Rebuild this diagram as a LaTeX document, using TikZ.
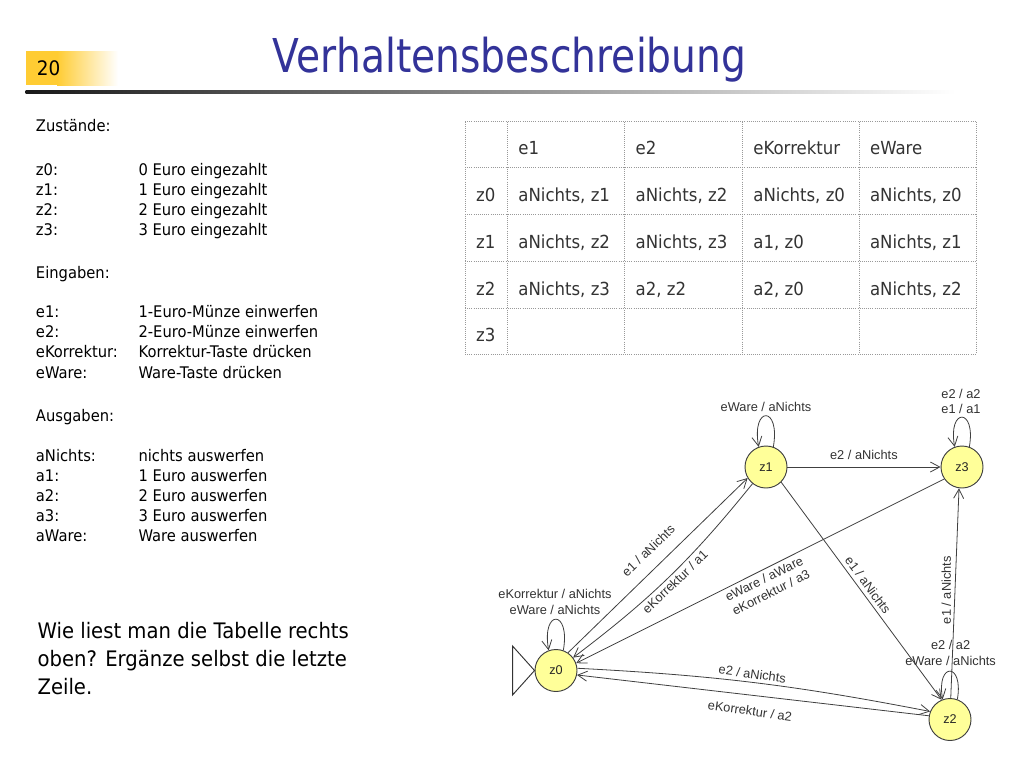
\documentclass[tikz,border=0pt]{standalone}
\usepackage{fontspec}
\setmainfont{DejaVu Sans}
\newfontfamily\tahoma{DejaVu Sans}[FakeStretch=0.92]
\newfontfamily\titlef{DejaVu Sans}[FakeStretch=0.84]
\newfontfamily\labf{Liberation Sans}
\usetikzlibrary{arrows.meta}
\definecolor{titleblue}{RGB}{51,51,153}
\definecolor{boxy}{RGB}{255,204,51}
\definecolor{nodey}{RGB}{255,255,153}
\begin{document}
\begin{tikzpicture}[x=0.75pt,y=0.75pt,
  state/.style={circle,draw=black!75,fill=nodey,line width=0.7pt,minimum size=31.5pt,inner sep=0pt,font=\labf\fontsize{9.5}{11}\selectfont,text=black!85},
  edge/.style={draw=black!75,line width=0.6pt,-{Straight Barb[length=7pt,width=7.5pt]}},
  lab/.style={font=\labf\fontsize{9.6}{11.4}\selectfont,text=black!80,inner sep=0pt,align=center},
  body/.style={font=\tahoma\fontsize{12}{14}\selectfont,anchor=base west,inner sep=0pt},
  quest/.style={font=\tahoma\fontsize{16}{20}\selectfont,anchor=base west,inner sep=0pt},
  cell/.style={font=\tahoma\fontsize{13.5}{16}\selectfont,text=black!80,anchor=base west,inner sep=0pt},
  gridline/.style={draw=black!40,densely dotted,line width=0.6pt}]
\useasboundingbox (0,0) rectangle (1024,-768);
\fill[white] (0,0) rectangle (1024,-768);
% header
\fill[boxy] (25.7,-51) rectangle (57,-85);
\shade[left color=boxy,right color=white] (57,-51) rectangle (118,-85);
\node[anchor=base west,inner sep=0pt,font=\tahoma\fontsize{15}{18}\selectfont] (num) at (36.7,-75) {20};
\shade[left color=black!90,middle color=black!45,right color=white] (25.7,-90.5) rectangle (955,-93.5);
\node[anchor=base west,inner sep=0pt,font=\titlef\fontsize{35}{40}\selectfont,text=titleblue] (title) at (272.7,-72) {Verhaltensbeschreibung};
% left text
\node[body] (hz) at (35.7,-131) {Zustände:};
\node[body] (he) at (35.7,-278.5) {Eingaben:};
\node[body] (ha) at (35.7,-421) {Ausgaben:};
\foreach \yy/\aa/\bb [count=\i] in {175/z0:/0 Euro eingezahlt, 195/z1:/1 Euro eingezahlt, 215/z2:/2 Euro eingezahlt, 235/z3:/3 Euro eingezahlt,
  317.5/e1:/1-Euro-Münze einwerfen, 337.5/e2:/2-Euro-Münze einwerfen, 357.5/eKorrektur:/Korrektur-Taste drücken, 378/eWare:/Ware-Taste drücken,
  461/aNichts:/nichts auswerfen, 481/a1:/1 Euro auswerfen, 501/a2:/2 Euro auswerfen, 521/a3:/3 Euro auswerfen, 541.5/aWare:/Ware auswerfen}{
  \node[body] (la\i) at (35.7,-\yy) {\aa};
  \node[body] (lb\i) at (138.3,-\yy) {\bb};
}
\node[quest] (q1) at (37.3,-638.3) {Wie liest man die Tabelle rechts};
\node[quest] (q2) at (37.3,-666.3) {oben? Ergänze selbst die letzte};
\node[quest] (q3) at (37.3,-694.3) {Zeile.};
% table
\foreach \xx in {465,507.3,624.6,742.3,859,976.7}{\draw[gridline] (\xx,-121.8) -- (\xx,-354.1);}
\foreach \yy in {121.8,167.5,214.8,261.5,308.8,354.1}{\draw[gridline] (465,-\yy) -- (976.7,-\yy);}
\node[cell] (h1) at (518.1,-154) {e1};
\node[cell] (h2) at (635.4,-154) {e2};
\node[cell] (h3) at (753.1,-154) {eKorrektur};
\node[cell] (h4) at (869.8,-154) {eWare};
\foreach \yy/\rr/\ca/\cb/\cc/\cd [count=\i] in {
  201.5/z0/{aNichts, z1}/{aNichts, z2}/{aNichts, z0}/{aNichts, z0},
  248.3/z1/{aNichts, z2}/{aNichts, z3}/{a1, z0}/{aNichts, z1},
  295.3/z2/{aNichts, z3}/{a2, z2}/{a2, z0}/{aNichts, z2},
  341.6/z3/{}/{}/{}/{}}{
  \node[cell] (r\i) at (475.9,-\yy) {\rr};
  \node[cell] (r\i a) at (518.1,-\yy) {\ca};
  \node[cell] (r\i b) at (635.4,-\yy) {\cb};
  \node[cell] (r\i c) at (753.1,-\yy) {\cc};
  \node[cell] (r\i d) at (869.8,-\yy) {\cd};
}
% automaton
\node[state] (z0) at (556,-670.5) {z0};
\node[state] (z1) at (766,-467) {z1};
\node[state] (z3) at (962,-467) {z3};
\node[state] (z2) at (950,-719.5) {z2};
\draw[black!80,line width=0.7pt] (z0.west) -- +(-22,24.5) -- +(-22,-24.5) -- cycle;
\draw[edge] (z0.70) .. controls +(80:42) and +(100:42) .. (z0.110);
\draw[edge] (z1.70) .. controls +(80:42) and +(100:42) .. (z1.110);
\draw[edge] (z3.70) .. controls +(80:40) and +(100:40) .. (z3.110);
\draw[edge] (z2.70) .. controls +(80:38) and +(100:38) .. (z2.110);
\draw[edge] (z0.56) -- (z1.211);
\draw[edge] (z1.231) to[bend left=7] (z0.37);
\draw[edge] (z3.214) -- (z0.20);
\draw[edge] (z1.-45) -- (z2.113);
\draw[edge] (z2.88) -- (z3.262);
\draw[edge] (z1) -- (z3);
\draw[edge] (z0.6) to[bend left=4] (z2.158);
\draw[edge] (z2.170) -- (z0.-12);
\node[lab] (ll1) at (766,-407) {eWare / aNichts};
\node[lab] (ll3) at (961,-401.7) {e2 / a2\\e1 / a1};
\node[lab] (ll0) at (555,-602) {eKorrektur / aNichts\\eWare / aNichts};
\node[lab] (ll2) at (950.6,-653) {e2 / a2\\eWare / aNichts};
\node[lab,rotate=44] (l01) at (648.3,-550.5) {e1 / aNichts};
\node[lab,rotate=44] (l10) at (675,-582) {eKorrektur / a1};
\node[lab,rotate=26.4] (l30) at (767.5,-585.5) {eWare / aWare\\eKorrektur / a3};
\node[lab,rotate=-53.6] (l12) at (868,-585) {e1 / aNichts};
\node[lab,rotate=90] (l23) at (946.3,-590.2) {e1 / aNichts};
\node[lab] (l13) at (863.9,-454.9) {e2 / aNichts};
\node[lab,rotate=-8] (l02) at (752.3,-674) {e2 / aNichts};
\node[lab,rotate=-8] (l20) at (750,-710.7) {eKorrektur / a2};
\end{tikzpicture}
\end{document}
